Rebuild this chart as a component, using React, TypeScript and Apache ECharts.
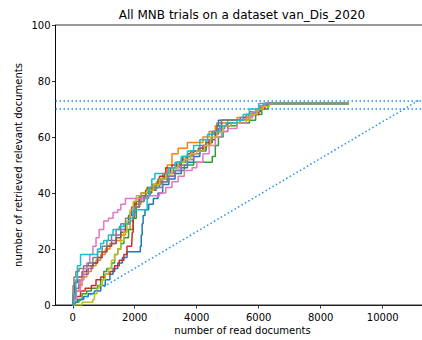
import React, { useEffect, useRef } from "react";
import * as echarts from "echarts";

const titleText = "All MNB trials on a dataset van_Dis_2020";
const xName = "number of read documents";
const yName = "number of retrieved relevant documents";

const xTicks = [0, 2000, 4000, 6000, 8000, 10000];
const xMin = -557;
const xMax = 11707;

const colors = ["#1f77b4", "#ff7f0e", "#2ca02c", "#d62728", "#9467bd", "#8c564b", "#e377c2", "#7f7f7f", "#bcbd22", "#17becf"];

const trial1 = [[0,0],[60,1],[150,2],[350,3],[500,4],[700,5],[900,7],[1050,9],[1200,11],[1300,13],[1450,15],[1600,17],[1750,19],[2150,19],[2180,21],[2210,25],[2240,29],[2270,32],[2330,34],[2450,36],[2600,38],[2750,40],[2900,43],[3100,45],[3300,47],[3500,49],[3700,51],[3900,53],[4100,55],[4300,58],[4500,62],[4650,64],[4700,66],[5500,66],[5600,68],[5800,69],[6000,71],[6200,72],[8900,72]];
const trial2 = [[0,0],[30,2],[80,5],[200,7],[300,10],[450,12],[600,14],[750,16],[900,18],[1050,20],[1200,22],[1400,23],[1550,25],[1700,27],[1850,30],[1950,33],[2050,36],[2200,38],[2350,40],[2500,42],[2700,44],[2900,47],[3050,50],[3200,54],[3400,56],[3700,58],[4000,58],[4200,60],[4400,62],[4600,64],[4800,65],[5000,66],[5300,67],[5600,68],[5900,70],[6100,71],[6300,72],[8900,72]];
const trial3 = [[0,0],[80,1],[200,2],[300,4],[450,5],[600,6],[800,7],[900,9],[1000,12],[1100,13],[1250,15],[1350,18],[1450,20],[1550,22],[1650,24],[1800,27],[1950,31],[2050,35],[2150,38],[2350,40],[2550,42],[2800,44],[3050,46],[3300,48],[3600,50],[3900,51],[4500,53],[4600,57],[4700,60],[4850,62],[5000,64],[5300,65],[5700,66],[5900,68],[6100,70],[6300,72],[8900,72]];
const trial4 = [[0,0],[40,2],[120,3],[250,5],[400,6],[600,7],[750,9],[900,10],[1050,11],[1200,12],[1350,14],[1500,16],[1650,18],[1750,21],[1900,21],[1920,26],[1950,31],[1980,36],[2050,38],[2200,40],[2400,42],[2600,43],[2800,46],[3000,49],[3200,50],[3500,52],[3700,54],[3900,55],[4200,57],[4400,59],[4600,62],[4800,64],[5000,65],[5400,66],[5700,68],[6000,70],[6200,72],[8900,72]];
const trial5 = [[0,0],[30,3],[100,6],[200,9],[350,11],[500,13],[650,15],[800,17],[950,19],[1100,21],[1250,23],[1400,25],[1550,27],[1700,29],[1850,32],[2000,35],[2150,37],[2300,39],[2500,41],[2700,42],[2900,44],[3100,46],[3300,48],[3500,50],[3700,52],[3900,54],[4100,56],[4300,58],[4500,61],[4700,63],[4900,64],[5100,65],[5400,67],[5700,69],[6000,71],[6250,72],[8900,72]];
const trial6 = [[0,0],[20,4],[60,8],[150,10],[300,12],[450,14],[650,15],[800,17],[950,19],[1100,21],[1250,22],[1400,24],[1550,26],[1700,29],[1800,32],[1900,35],[2000,37],[2150,39],[2350,41],[2550,43],[2750,45],[2950,47],[3150,49],[3350,51],[3550,53],[3800,55],[4050,56],[4300,58],[4500,61],[4650,64],[4800,66],[5200,66],[5500,67],[5800,69],[6050,71],[6250,72],[8900,72]];
const trial7 = [[0,0],[50,2],[120,5],[250,9],[350,13],[450,15],[550,18],[650,21],[750,24],[850,27],[1000,30],[1150,31],[1300,33],[1450,34],[1550,36],[1700,38],[2200,38],[2400,39],[2800,40],[3000,42],[3200,44],[3400,46],[3600,48],[3850,49],[4000,51],[4200,54],[4400,57],[4600,60],[4800,62],[5000,63],[5300,65],[5600,67],[5800,69],[6000,71],[6200,72],[8900,72]];
const trial8 = [[0,0],[10,7],[40,10],[100,12],[200,13],[350,14],[500,15],[650,17],[800,19],[950,21],[1100,23],[1250,25],[1400,27],[1550,29],[1700,31],[1850,33],[2000,35],[2150,37],[2300,39],[2450,41],[2650,43],[2850,45],[3050,47],[3250,49],[3450,51],[3650,53],[3850,55],[4100,57],[4300,59],[4500,62],[4650,65],[4800,66],[5400,66],[5700,68],[5950,70],[6150,72],[8900,72]];
const trial9 = [[0,0],[300,1],[650,2],[700,4],[780,6],[850,7],[950,9],[1050,11],[1150,13],[1250,16],[1350,18],[1450,20],[1550,23],[1650,26],[1750,30],[1850,34],[1950,37],[2050,39],[2200,40],[2400,41],[2600,43],[2800,45],[3000,47],[3200,49],[3400,51],[3600,52],[3800,54],[4000,55],[4250,57],[4450,60],[4650,62],[4850,64],[5100,65],[5400,66],[5700,68],[5950,70],[6150,71],[6350,72],[8900,72]];
const trial10 = [[0,0],[40,4],[100,9],[150,14],[250,18],[700,18],[800,20],[900,22],[1000,23],[1150,25],[1300,27],[1500,28],[1650,29],[1850,31],[1950,34],[2350,34],[2400,38],[2450,42],[2550,45],[2650,47],[2950,47],[3100,49],[3300,51],[3500,53],[3700,55],[3900,57],[4100,59],[4350,61],[4550,62],[4750,64],[4950,65],[5300,66],[5500,68],[5700,70],[6000,72],[8900,72]];

const trials = [trial1, trial2, trial3, trial4, trial5, trial6, trial7, trial8, trial9, trial10];

const randomLine = [[0, 0], [11150, 73]];
const hLines = [73, 70];

const dotColor = "#1e90ff";
const font = "DejaVu Sans";

export default function App() {
  const ref = useRef<HTMLDivElement>(null);
  useEffect(() => {
    const chart = echarts.init(ref.current!, null, { renderer: "svg" });
    const series: any[] = trials.map((d, i) => ({
      type: "line",
      data: d,
      step: "end",
      showSymbol: false,
      symbol: "none",
      lineStyle: { color: colors[i], width: 1.5 },
      z: 2 + i,
    }));
    series.push({
      type: "line",
      data: randomLine,
      showSymbol: false,
      symbol: "none",
      lineStyle: { color: dotColor, width: 1.5, type: [1.5, 2.5] },
      z: 20,
      markLine: {
        silent: true,
        symbol: "none",
        label: { show: false },
        lineStyle: { color: dotColor, width: 1.5, type: [1.5, 2.5] },
        data: hLines.map((v) => ({ yAxis: v })),
      },
    });
    chart.setOption({
      animation: false,
      grid: {
        left: 55.5,
        top: 25,
        right: 0.4,
        bottom: 35,
        show: true,
        borderColor: "#000",
        borderWidth: 0.8,
      },
      xAxis: {
        type: "value",
        min: xMin,
        max: xMax,
        splitLine: { show: false },
        axisLine: { show: true, onZero: false, lineStyle: { color: "#000", width: 0.8 } },
        axisTick: { show: true, length: 3.5, inside: false, customValues: xTicks, lineStyle: { color: "#000", width: 0.8 } },
        axisLabel: { customValues: xTicks, color: "#000", fontFamily: font, fontSize: 10, margin: 7, formatter: (v: number) => String(v) },
      },
      yAxis: {
        type: "value",
        min: 0,
        max: 100,
        interval: 20,
        splitLine: { show: false },
        axisLine: { show: true, onZero: false, lineStyle: { color: "#000", width: 0.8 } },
        axisTick: { show: true, length: 3.5, inside: false, lineStyle: { color: "#000", width: 0.8 } },
        axisLabel: { color: "#000", fontFamily: font, fontSize: 10, margin: 5 },
      },
      graphic: [
        {
          type: "text",
          x: 242,
          y: 15,
          style: { text: titleText, fontFamily: font, fontSize: 12, fill: "#000", textAlign: "center", textVerticalAlign: "middle" },
        },
        {
          type: "text",
          x: 242.5,
          y: 330,
          style: { text: xName, fontFamily: font, fontSize: 10, fill: "#000", textAlign: "center", textVerticalAlign: "middle" },
        },
        {
          type: "text",
          x: 18,
          y: 165,
          rotation: Math.PI / 2,
          style: { text: yName, fontFamily: font, fontSize: 10, fill: "#000", textAlign: "center", textVerticalAlign: "middle" },
        },
      ],
      series,
    });
    return () => chart.dispose();
  }, []);
  return (
    <div style={{ position: "absolute", left: 0, top: 0, width: 422, height: 340, overflow: "hidden", background: "#fff" }}>
      <div ref={ref} style={{ width: 436, height: 340 }} />
    </div>
  );
}
